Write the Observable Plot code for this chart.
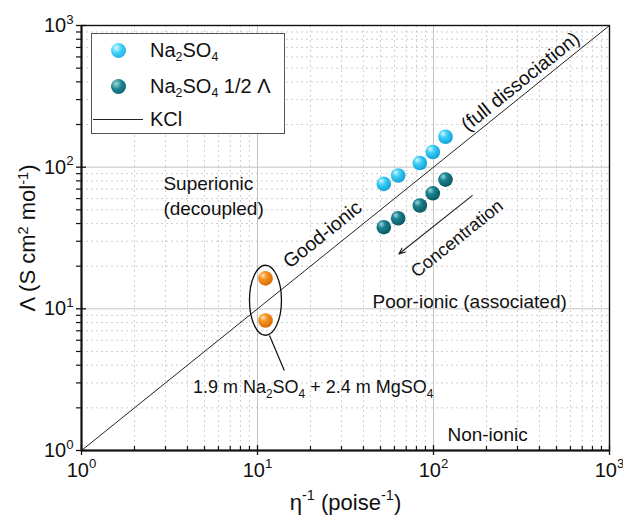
<!DOCTYPE html>
<html><head><meta charset="utf-8">
<script src="https://cdn.jsdelivr.net/npm/d3@7"></script>
<script src="https://cdn.jsdelivr.net/npm/@observablehq/plot@0.6"></script>
<style>
html,body{margin:0;padding:0;background:#fff;}
#wrap{position:relative;width:623px;height:523px;font-family:"Liberation Sans",Arial,sans-serif;color:#111;}
#legend{position:absolute;left:91px;top:33px;width:194px;height:101px;border:1px solid #555;background:#fff;box-sizing:border-box;}
.row{position:absolute;left:58px;height:30px;line-height:30px;font-size:20px;white-space:nowrap;}
.ball{position:absolute;width:15px;height:15px;border-radius:50%;}
.kline{position:absolute;left:1px;width:50px;height:0;border-top:1px solid #222;}
sub{font-size:62%;vertical-align:-0.32em;line-height:0;}
#ytitle{position:absolute;left:28px;top:238px;transform:translate(-50%,-50%) rotate(-90deg);font-size:22px;white-space:nowrap;line-height:1;}
#ytitle sup{font-size:66%;vertical-align:0.5em;line-height:0;}
</style></head><body>
<div id="wrap"></div>
<script>
// ---- data ----
const majorTicks = [1, 10, 100, 1000];
const minorTicks = [];
for (const d of [1, 10, 100]) for (let m = 2; m <= 9; m++) minorTicks.push(d * m);

const na2so4X = [52.2, 63.0, 83.6, 99.1, 117];
const na2so4Y = [76.2, 87.3, 107, 128, 164];
const halfX   = [52.2, 63.0, 83.6, 99.1, 117];
const halfY   = [37.7, 43.6, 53.6, 65.4, 81.7];
const mixX    = [11.1, 11.1];
const mixY    = [16.4, 8.27];
const kclX    = [1, 1000];
const kclY    = [1, 1000];

const legendLabels = ["Na<sub>2</sub>SO<sub>4</sub>", "Na<sub>2</sub>SO<sub>4</sub> 1/2 Λ", "KCl"];

const labelTexts = ["Superionic\n(decoupled)", "Good-ionic", "(full dissociation)", "Concentration", "Poor-ionic (associated)", "Non-ionic", "1.9 m Na_{2}SO_{4} + 2.4 m MgSO_{4}"];
const labelX     = [2.92, 23.4, 312, 136, 45, 120, 20.7];
const labelY     = [64.1, 33.4, 402, 31.3, 11.6, 1.32, 2.78];

const arrowFrom = [166, 63];
const arrowTo   = [63.5, 24.4];
const leaderFrom = [11.7, 6.48];
const leaderTo   = [14.2, 3.67];
const ellipseCenter = [11.1, 11.5];

const xTitle = "η^{-1} (poise^{-1})";
const yTitleHTML = "Λ (S cm<sup>2</sup> mol<sup>-1</sup>)";
const axisMid = 31.62; // geometric middle of the 1..1000 log axes

// ---- build ----
const pts = (xs, ys) => xs.map((x, i) => ({x, y: ys[i]}));
const ang = -38.8;
const labels = labelTexts.map((t, i) => ({t, x: labelX[i], y: labelY[i]}));

const ellipseSymbol = {
  draw(ctx) {
    const rx = 16, ry = 35, k = 0.5523;
    ctx.moveTo(0, -ry);
    ctx.bezierCurveTo(k * rx, -ry, rx, -k * ry, rx, 0);
    ctx.bezierCurveTo(rx, k * ry, k * rx, ry, 0, ry);
    ctx.bezierCurveTo(-k * rx, ry, -rx, k * ry, -rx, 0);
    ctx.bezierCurveTo(-rx, -k * ry, -k * rx, -ry, 0, -ry);
    ctx.closePath();
  }
};

const plot = Plot.plot({
  width: 623, height: 523,
  marginLeft: 81, marginRight: 14, marginTop: 25, marginBottom: 73,
  style: {fontFamily: '"Liberation Sans", Arial, sans-serif', fontSize: "18px", color: "#111", background: "#fff", overflow: "visible"},
  x: {type: "log", domain: [1, 1000]},
  y: {type: "log", domain: [1, 1000]},
  marks: [
    Plot.ruleX(minorTicks, {stroke: "#cfcfcf", strokeDasharray: "2,3", strokeWidth: 1}),
    Plot.ruleY(minorTicks, {stroke: "#cfcfcf", strokeDasharray: "2,3", strokeWidth: 1}),
    Plot.ruleX(majorTicks, {stroke: "#c4c4c4", strokeWidth: 1}),
    Plot.ruleY(majorTicks, {stroke: "#c4c4c4", strokeWidth: 1}),
    Plot.line(pts(kclX, kclY), {x: "x", y: "y", stroke: "#222", strokeWidth: 1}),
    Plot.dot([{x: ellipseCenter[0], y: ellipseCenter[1]}], {x: "x", y: "y", symbol: ellipseSymbol, r: 10, stroke: "#111", strokeWidth: 1.3, fill: "none"}),
    Plot.link([{x1: leaderFrom[0], y1: leaderFrom[1], x2: leaderTo[0], y2: leaderTo[1]}], {x1: "x1", y1: "y1", x2: "x2", y2: "y2", stroke: "#111", strokeWidth: 1.2}),
    Plot.arrow([{x1: arrowFrom[0], y1: arrowFrom[1], x2: arrowTo[0], y2: arrowTo[1]}], {x1: "x1", y1: "y1", x2: "x2", y2: "y2", stroke: "#222", strokeWidth: 1.1, headLength: 9, headAngle: 45}),
    Plot.dot(pts(na2so4X, na2so4Y), {x: "x", y: "y", r: 7.3, fill: "url(#gBlue)"}),
    Plot.dot(pts(halfX, halfY), {x: "x", y: "y", r: 7.3, fill: "url(#gTeal)"}),
    Plot.dot(pts(mixX, mixY), {x: "x", y: "y", r: 7.3, fill: "url(#gOrange)"}),
    Plot.text(labels.filter((d, i) => i === 0 || i === 4 || i === 5), {x: "x", y: "y", text: "t", textAnchor: "start", fontSize: 19, lineHeight: 1.3, fill: "#111"}),
    Plot.text(labels.filter((d, i) => i === 1 || i === 2), {x: "x", y: "y", text: "t", rotate: ang, fontSize: 19.5, fill: "#111"}),
    Plot.text(labels.filter((d, i) => i === 3), {x: "x", y: "y", text: "t", rotate: ang, fontSize: 18, fill: "#111"}),
    Plot.text(labels.filter((d, i) => i === 6), {x: "x", y: "y", text: "t", fontSize: 18, fill: "#111"}),
    // axes
    Plot.axisX(majorTicks, {tickSize: 10, dy: -5, fill: "none", label: null, stroke: "#111", strokeWidth: 1.3}),
    Plot.axisX(minorTicks, {tickSize: 4, dy: -4, fill: "none", label: null, stroke: "#111", strokeWidth: 1.2}),
    Plot.axisX(majorTicks, {tickSize: 0, tickPadding: 12, label: null, tickFormat: d => `10^{${Math.round(Math.log10(d))}}`}),
    Plot.axisY(majorTicks, {tickSize: 10, dx: 5, fill: "none", label: null, stroke: "#111", strokeWidth: 1.3}),
    Plot.axisY(minorTicks, {tickSize: 5, fill: "none", label: null, stroke: "#111", strokeWidth: 1.2}),
    Plot.axisY(majorTicks, {tickSize: 0, tickPadding: 8, label: null, tickFormat: d => `10^{${Math.round(Math.log10(d))}}`}),
    Plot.text([{t: xTitle, x: axisMid, y: 1}], {x: "x", y: "y", text: "t", dy: 52, textAnchor: "middle", fontSize: 22, fill: "#111"}),
    Plot.frame({stroke: "#111", strokeWidth: 1.4}),
    Plot.ruleX([1], {stroke: "#111", strokeWidth: 2}),
    Plot.ruleY([1], {stroke: "#111", strokeWidth: 2})
  ]
});

// tick label size
d3.select(plot).selectAll('g[aria-label$="tick label"] text').attr("font-size", 20);

// gradients for the 3D-looking balls
d3.select(plot).insert("defs", ":first-child").html(`
<radialGradient id="gBlue" cx="0.4" cy="0.38" r="0.65" fx="0.32" fy="0.28">
 <stop offset="0" stop-color="#d6f7ff"/><stop offset="0.4" stop-color="#3ccff7"/><stop offset="1" stop-color="#109fd4"/></radialGradient>
<radialGradient id="gTeal" cx="0.4" cy="0.38" r="0.65" fx="0.32" fy="0.28">
 <stop offset="0" stop-color="#9fd6dc"/><stop offset="0.4" stop-color="#18828e"/><stop offset="1" stop-color="#0a5660"/></radialGradient>
<radialGradient id="gOrange" cx="0.4" cy="0.38" r="0.65" fx="0.32" fy="0.28">
 <stop offset="0" stop-color="#ffe6c0"/><stop offset="0.4" stop-color="#f7941f"/><stop offset="1" stop-color="#d56806"/></radialGradient>`);

const wrap = document.getElementById("wrap");
wrap.appendChild(plot);

// sub/superscript rendering
function richify(root) {
  root.querySelectorAll("text").forEach(el => {
    if (el.querySelector("tspan")) return;
    const s = el.textContent;
    if (!/[_^]\{/.test(s)) return;
    const fs = parseFloat(getComputedStyle(el).fontSize) || 16;
    el.textContent = "";
    let cur = 0;
    for (const p of s.split(/([_^]\{[^}]*\})/)) {
      if (!p) continue;
      let txt = p, target = 0, small = false;
      if (/^[_^]\{/.test(p)) { small = true; txt = p.slice(2, -1); target = p[0] === "^" ? -0.42 * fs : 0.25 * fs; }
      const t = document.createElementNS("http://www.w3.org/2000/svg", "tspan");
      t.textContent = txt;
      if (target !== cur) t.setAttribute("dy", target - cur);
      cur = target;
      if (small) t.setAttribute("font-size", 0.66 * fs);
      el.appendChild(t);
    }
  });
}
richify(plot);

// y-axis title (rotated, centred on the frame)
const yt = document.createElement("div");
yt.id = "ytitle";
yt.innerHTML = yTitleHTML;
wrap.appendChild(yt);

// legend
const legend = document.createElement("div");
legend.id = "legend";
const ballColors = ["radial-gradient(circle at 35% 32%, #d6f7ff 0%, #3ccff7 40%, #109fd4 100%)",
                    "radial-gradient(circle at 35% 32%, #9fd6dc 0%, #18828e 40%, #0a5660 100%)"];
const rowCenters = [16, 52, 85];
legendLabels.forEach((lab, i) => {
  if (i < 2) {
    const b = document.createElement("div");
    b.className = "ball";
    b.style.left = "19px"; b.style.top = (rowCenters[i] - 7.5) + "px";
    b.style.background = ballColors[i];
    legend.appendChild(b);
  } else {
    const l = document.createElement("div");
    l.className = "kline"; l.style.top = rowCenters[i] + "px";
    legend.appendChild(l);
  }
  const r = document.createElement("div");
  r.className = "row"; r.style.top = (rowCenters[i] - 15) + "px";
  r.innerHTML = lab;
  legend.appendChild(r);
});
wrap.appendChild(legend);
</script>
</body></html>
